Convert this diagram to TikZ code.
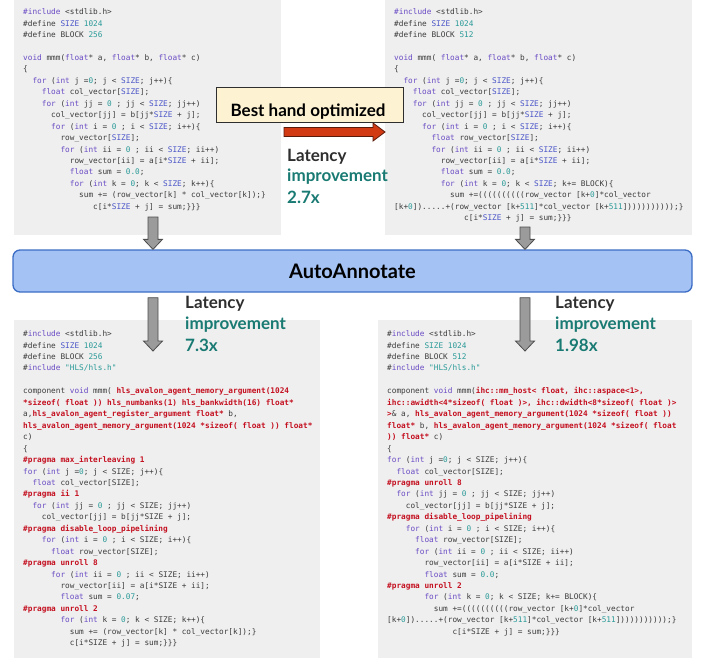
\documentclass[tikz,border=0pt]{standalone}
\usepackage{fontspec}
\setmainfont{Lato}
\newfontfamily\codefont{DejaVu Sans Mono}
\usetikzlibrary{calc}
\definecolor{codebg}{HTML}{EFEFEF}
\definecolor{codetx}{HTML}{3C3C3C}
\definecolor{kwc}{HTML}{6A4BC4}
\definecolor{numc}{HTML}{2A9A98}
\definecolor{szc}{HTML}{4A55C8}
\definecolor{redc}{HTML}{C41020}
\definecolor{tealc}{HTML}{187A72}
\definecolor{darkc}{HTML}{2E2E2E}
\definecolor{barfill}{HTML}{A4C2F4}
\definecolor{barline}{HTML}{3C6DC5}
\definecolor{cream}{HTML}{FDF3D3}
\definecolor{redarr}{HTML}{D23A14}
\definecolor{rarrline}{HTML}{5A1A0A}
\definecolor{garr}{HTML}{9B9B9B}
\definecolor{garrline}{HTML}{4D4D4D}
\newcommand\kw[1]{\textcolor{kwc}{#1}}
\newcommand\nm[1]{\textcolor{numc}{#1}}
\newcommand\sz[1]{\textcolor{szc}{#1}}
\newcommand\rd[1]{\textcolor{redc}{\bfseries #1}}
\newdimen\cw \cw=4.666pt
\newcommand\ind[1]{\hspace*{#1\cw}}
\newcommand\blkdown[2]{%
  \draw[garrow] ($(#1)+(-5,0)$) -- ($(#1)+(5,0)$) -- ($(#2)+(5,-10)$) -- ($(#2)+(9.5,-10)$) -- (#2) -- ($(#2)+(-9.5,-10)$) -- ($(#2)+(-5,-10)$) -- cycle;}
\begin{document}
\begin{tikzpicture}[x=1pt,y=-1pt,
  codebox/.style={fill=codebg, draw=none, inner sep=0pt, anchor=north west},
  code/.style={anchor=north west, inner sep=0pt, align=left, text=codetx, font=\codefont\fontsize{7.75}{11.45}\selectfont},
  lab/.style={anchor=base west, inner sep=0pt, font=\bfseries\fontsize{17}{18}\selectfont},
  garrow/.style={fill=garr, draw=garrline, line width=0.8pt, line join=miter},
  rarrow/.style={fill=redarr, draw=rarrline, line width=0.8pt, line join=miter}]
\useasboundingbox (0,0) rectangle (707,658);
% code boxes
\node[codebox, minimum width=267pt, minimum height=235pt] (box1) at (14,0) {};
\node[codebox, minimum width=307pt, minimum height=235pt] (box2) at (385,0) {};
\node[codebox, minimum width=306pt, minimum height=338pt] (box3) at (14,320) {};
\node[codebox, minimum width=314pt, minimum height=338pt] (box4) at (378,320) {};
% top-left code
\node[code] (code1) at (23,8.5) {%
\kw{\#include} <stdlib.h>\\
\#define \sz{SIZE} \nm{1024}\\
\#define BLOCK \nm{256}\\
\mbox{}\\
\kw{void} mmm(\kw{float}* a, \kw{float}* b, \kw{float}* c)\\
\{\\
\ind{2}\kw{for} (\kw{int} j =\nm{0}; j < \sz{SIZE}; j++)\{\\
\ind{4}\kw{float} col\_vector[\sz{SIZE}];\\
\ind{4}\kw{for} (\kw{int} jj = \nm{0} ; jj < \sz{SIZE}; jj++)\\
\ind{6}col\_vector[jj] = b[jj*\sz{SIZE} + j];\\
\ind{6}\kw{for} (\kw{int} i = \nm{0} ; i < \sz{SIZE}; i++)\{\\
\ind{8}row\_vector[\sz{SIZE}];\\
\ind{8}\kw{for} (\kw{int} ii = \nm{0} ; ii < \sz{SIZE}; ii++)\\
\ind{10}row\_vector[ii] = a[i*\sz{SIZE} + ii];\\
\ind{10}\kw{float} sum = \nm{0.0};\\
\ind{10}\kw{for} (\kw{int} k = \nm{0}; k < \sz{SIZE}; k++)\{\\
\ind{12}sum += (row\_vector[k] * col\_vector[k]);\}\\
\ind{15}c[i*\sz{SIZE} + j] = sum;\}\}\}};
% top-right code
\node[code] (code2) at (394,8.5) {%
\kw{\#include} <stdlib.h>\\
\#define \sz{SIZE} \nm{1024}\\
\#define BLOCK \nm{512}\\
\mbox{}\\
\kw{void} mmm( \kw{float}* a, \kw{float}* b, \kw{float}* c)\\
\{\\
\ind{2}\kw{for} (\kw{int} j =\nm{0}; j < \sz{SIZE}; j++)\{\\
\ind{4}\kw{float} col\_vector[\sz{SIZE}];\\
\ind{4}\kw{for} (\kw{int} jj = \nm{0} ; jj < \sz{SIZE}; jj++)\\
\ind{6}col\_vector[jj] = b[jj*\sz{SIZE} + j];\\
\ind{6}\kw{for} (\kw{int} i = \nm{0} ; i < \sz{SIZE}; i++)\{\\
\ind{8}\kw{float} row\_vector[\sz{SIZE}];\\
\ind{8}\kw{for} (\kw{int} ii = \nm{0} ; ii < \sz{SIZE}; ii++)\\
\ind{10}row\_vector[ii] = a[i*\sz{SIZE} + ii];\\
\ind{10}\kw{float} sum = \nm{0.0};\\
\ind{10}\kw{for} (\kw{int} k = \nm{0}; k < \sz{SIZE}; k+= BLOCK)\{\\
\ind{12}sum +=((((((((((row\_vector [k+\nm{0}]*col\_vector\\
{}[k+\nm{0}]).....+(row\_vector [k+\nm{511}]*col\_vector [k+\nm{511}]))))))))));\}\\
\ind{15}c[i*\sz{SIZE} + j] = sum;\}\}\}};
% bottom-left code
\node[code] (code3) at (23,330.5) {%
\#\kw{include} <stdlib.h>\\
\#define \sz{SIZE} \nm{1024}\\
\#define BLOCK \nm{256}\\
\#\kw{include} \nm{"HLS/hls.h"}\\
\mbox{}\\
component \kw{void} mmm( \rd{hls\_avalon\_agent\_memory\_argument(1024}\\
\rd{*sizeof( float )) hls\_numbanks(1) hls\_bankwidth(16) float*}\\
a,\rd{hls\_avalon\_agent\_register\_argument float*} b,\\
\rd{hls\_avalon\_agent\_memory\_argument(1024 *sizeof( float )) float*}\\
c)\\
\{\\
\rd{\#pragma max\_interleaving 1}\\
\kw{for} (\kw{int} j =\nm{0}; j < SIZE; j++)\{\\
\ind{2}\kw{float} col\_vector[SIZE];\\
\rd{\#pragma ii 1}\\
\ind{2}\kw{for} (\kw{int} jj = \nm{0} ; jj < SIZE; jj++)\\
\ind{4}col\_vector[jj] = b[jj*SIZE + j];\\
\rd{\#pragma disable\_loop\_pipelining}\\
\ind{4}\kw{for} (\kw{int} i = \nm{0} ; i < SIZE; i++)\{\\
\ind{6}\kw{float} row\_vector[SIZE];\\
\rd{\#pragma unroll 8}\\
\ind{6}\kw{for} (\kw{int} ii = \nm{0} ; ii < SIZE; ii++)\\
\ind{8}row\_vector[ii] = a[i*SIZE + ii];\\
\ind{8}\kw{float} sum = \nm{0.07};\\
\rd{\#pragma unroll 2}\\
\ind{8}\kw{for} (\kw{int} k = \nm{0}; k < SIZE; k++)\{\\
\ind{10}sum += (row\_vector[k] * col\_vector[k]);\}\\
\ind{10}c[i*SIZE + j] = sum;\}\}\}};
% bottom-right code
\node[code] (code4) at (387,330.5) {%
\#\kw{include} <stdlib.h>\\
\#define \nm{SIZE} \nm{1024}\\
\#define BLOCK \nm{512}\\
\#\kw{include} \nm{"HLS/hls.h"}\\
\mbox{}\\
component \kw{void} mmm(\rd{ihc::mm\_host< float, ihc::aspace<1>,}\\
\rd{ihc::awidth<4*sizeof( float )>, ihc::dwidth<8*sizeof( float )>}\\
\rd{>}\& a, \rd{hls\_avalon\_agent\_memory\_argument(1024 *sizeof( float ))}\\
\rd{float*} b, \rd{hls\_avalon\_agent\_memory\_argument(1024 *sizeof( float}\\
\rd{)) float*} c)\\
\{\\
\kw{for} (\kw{int} j =\nm{0}; j < SIZE; j++)\{\\
\ind{2}\kw{float} col\_vector[SIZE];\\
\rd{\#pragma unroll 8}\\
\ind{2}\kw{for} (\kw{int} jj = \nm{0} ; jj < SIZE; jj++)\\
\ind{4}col\_vector[jj] = b[jj*SIZE + j];\\
\rd{\#pragma disable\_loop\_pipelining}\\
\ind{4}\kw{for} (\kw{int} i = \nm{0} ; i < SIZE; i++)\{\\
\ind{6}\kw{float} row\_vector[SIZE];\\
\ind{6}\kw{for} (\kw{int} ii = \nm{0} ; ii < SIZE; ii++)\\
\ind{8}row\_vector[ii] = a[i*SIZE + ii];\\
\ind{8}\kw{float} sum = \nm{0.0};\\
\rd{\#pragma unroll 2}\\
\ind{8}\kw{for} (\kw{int} k = \nm{0}; k < SIZE; k+= BLOCK)\{\\
\ind{10}sum +=((((((((((row\_vector [k+\nm{0}]*col\_vector\\
{}[k+\nm{0}]).....+(row\_vector [k+\nm{511}]*col\_vector [k+\nm{511}]))))))))));\}\\
\ind{14}c[i*SIZE + j] = sum;\}\}\}};
% AutoAnnotate bar
\node[draw=barline, fill=barfill, line width=1.3pt, rounded corners=7pt, minimum width=679pt, minimum height=42pt, inner sep=0pt, text=black, font=\bfseries\fontsize{20}{22}\selectfont] (bar) at (352.5,271) {AutoAnnotate};
% arrows into / out of the bar
\coordinate (a1s) at (153,217);
\coordinate (a1e) at (a1s |- bar.north);
\coordinate (a2s) at (525,227);
\coordinate (a2e) at (a2s |- bar.north);
\coordinate (a3s) at ($(bar.south -| a1s)+(0,5)$);
\coordinate (a3e) at (153,351);
\coordinate (a4s) at ($(bar.south -| a2s)+(0,5)$);
\coordinate (a4e) at (525,351);
\blkdown{a1s}{a1e}
\blkdown{a2s}{a2e}
\blkdown{a3s}{a3e}
\blkdown{a4s}{a4e}
% best hand optimized
\node[draw=darkc, fill=cream, line width=1pt, minimum width=187pt, minimum height=35pt, inner sep=0pt] (handbox) at (309.5,105.5) {};
\node[anchor=base, inner sep=0pt, text=black, font=\bfseries\fontsize{17}{19}\selectfont] (handtxt) at (308,117) {Best hand optimized};
\coordinate (r1) at (284,132);
\coordinate (r2) at (r1 -| box2.west);
\draw[rarrow] ($(r1)+(0,-4.5)$) -- ($(r2)+(-12,-4.5)$) -- ($(r2)+(-12,-9)$) -- (r2) -- ($(r2)+(-12,9)$) -- ($(r2)+(-12,4.5)$) -- ($(r1)+(0,4.5)$) -- cycle;
% latency labels
\node[lab, text=darkc] (l1a) at (287,161) {Latency};
\node[lab, text=tealc] (l1b) at (287,182) {improvement};
\node[lab, text=tealc] (l1c) at (287,203) {2.7x};
\node[lab, text=darkc] (l2a) at (185,308) {Latency};
\node[lab, text=tealc] (l2b) at (185,329) {improvement};
\node[lab, text=tealc] (l2c) at (185,351) {7.3x};
\node[lab, text=darkc] (l3a) at (555,308) {Latency};
\node[lab, text=tealc] (l3b) at (555,329) {improvement};
\node[lab, text=tealc] (l3c) at (555,351) {1.98x};
\end{tikzpicture}
\end{document}
